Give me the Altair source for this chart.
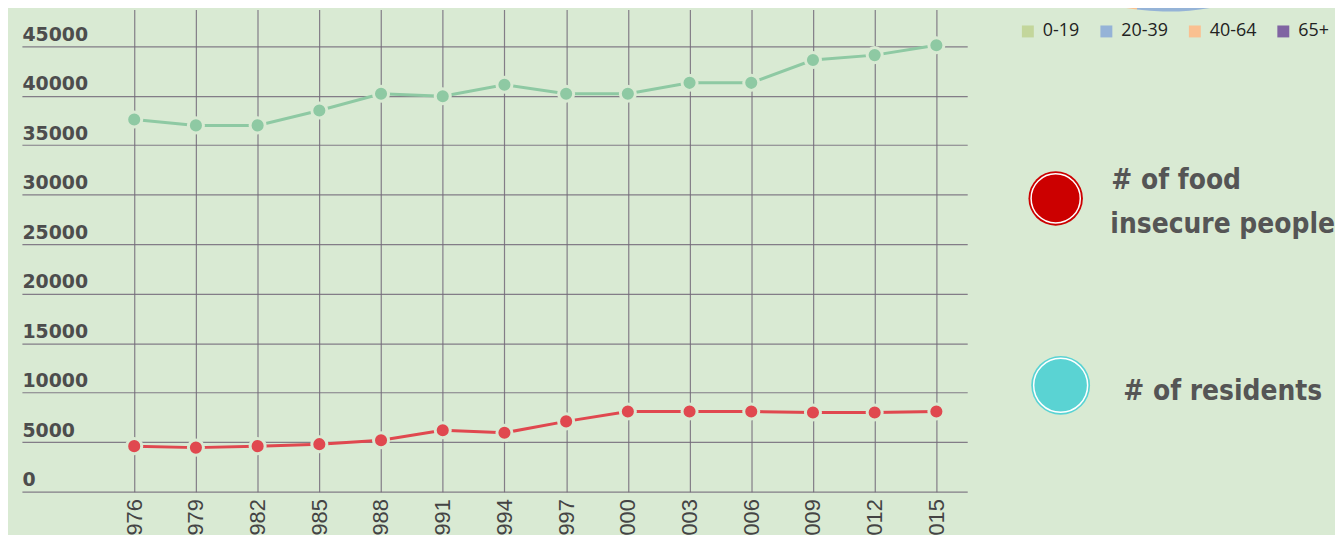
import altair as alt
import pandas as pd

# ---- data ----
years = [1976, 1979, 1982, 1985, 1988, 1991, 1994, 1997, 2000, 2003, 2006, 2009, 2012, 2015]
residents = [37600, 37000, 37000, 38500, 40200, 39950, 41100, 40200, 40200, 41300, 41300, 43600, 44100, 45100]
food_insecure = [4600, 4450, 4600, 4800, 5200, 6200, 5950, 7100, 8100, 8100, 8100, 8000, 8000, 8100]
y_ticks = [0, 5000, 10000, 15000, 20000, 25000, 30000, 35000, 40000, 45000]

age_groups = ["0-19", "20-39", "40-64", "65+"]
age_shares = [25, 27, 33, 15]  # pie is mostly cut off; rough estimate
age_colors = ["#c3d69b", "#95b3d7", "#fac090", "#8064a2"]

series_names = ["residents", "insecure"]
series_colors = ["#8ec9a3", "#e0484f"]

BG = "#d9ead3"
GRID = "#736a79"

n = len(years)
df = pd.DataFrame({
    "year": years * 2,
    "value": residents + food_insecure,
    "series": ["residents"] * n + ["insecure"] * n,
})

x_enc = alt.X(
    "year:Q",
    scale=alt.Scale(domain=[1970.54, 2016.5], nice=False, zero=False),
    axis=alt.Axis(
        values=years, format="d", title=None, labelAngle=270, labelPadding=7,
        ticks=False, tickSize=0, domain=False, grid=True, gridColor=GRID,
        gridWidth=1.2, gridOpacity=0.85, labelFont="Liberation Sans",
        labelFontSize=22, labelColor="#444444", labelFlush=False, labelOverlap=False,
    ),
)
y_enc = alt.Y(
    "value:Q",
    scale=alt.Scale(domain=[0, 48700], nice=False),
    axis=alt.Axis(
        values=y_ticks, format="d", title=None, labelAlign="left", labelBaseline="alphabetic",
        labelPadding=0, ticks=False, tickSize=0, domain=False, labelOffset=-6,
        labelFont="DejaVu Sans", labelFontWeight="bold", labelFontSize=19,
        labelColor="#4d4d4d", grid=True, gridColor=GRID, gridWidth=1.2,
        gridOpacity=0.85, labelFlush=False, labelOverlap=False,
    ),
)
col_enc = alt.Color(
    "series:N",
    scale=alt.Scale(domain=series_names, range=series_colors),
    legend=None,
)

base = alt.Chart(df)
lines = base.mark_line(strokeWidth=3).encode(x=x_enc, y=y_enc, color=col_enc, detail="series:N")
points = base.mark_point(filled=True, shape="circle", size=230, stroke=BG,
                         strokeWidth=3, opacity=1, strokeOpacity=1).encode(
    x="year:Q", y="value:Q", color=col_enc
)

# ---- pie (mostly cut off at the top) with its legend ----
pie_df = pd.DataFrame({"age": age_groups, "share": age_shares, "order": list(range(len(age_groups)))})
pie = alt.Chart(pie_df).mark_arc(radius=250).encode(
    theta=alt.Theta("share:Q", stack=True),
    order=alt.Order("order:Q"),
    color=alt.Color(
        "age:N",
        scale=alt.Scale(domain=age_groups, range=age_colors),
        legend=alt.Legend(
            orient="none", direction="horizontal", legendX=1003, legendY=13,
            title=None, symbolType="square", symbolSize=144, symbolStrokeWidth=0,
            labelFont="Open Sans", labelFontSize=18, labelColor="#222222",
            labelOffset=6, columnPadding=18, padding=0,
        ),
    ),
    x=alt.value(1153),
    y=alt.value(-248),
)

# ---- big key circles and text ----
one = pd.DataFrame({"k": [0]})
red_c = alt.Chart(one).mark_point(filled=True, shape="circle", size=3000, color="#cc0000", opacity=1).encode(
    x=alt.value(1040), y=alt.value(190))
red_ring = alt.Chart(one).mark_point(filled=False, shape="circle", size=2450, color="white",
                                     strokeWidth=1.5, opacity=1).encode(x=alt.value(1040), y=alt.value(190))
teal_c = alt.Chart(one).mark_point(filled=True, shape="circle", size=3500, color="#5ad3d3", opacity=1).encode(
    x=alt.value(1045), y=alt.value(378))
teal_ring = alt.Chart(one).mark_point(filled=False, shape="circle", size=2950, color="white",
                                      strokeWidth=1.5, opacity=1).encode(x=alt.value(1045), y=alt.value(378))

key_font = "DejaVu Sans Condensed, DejaVu Sans, sans-serif"

def key_text(txt, xv, yv):
    return alt.Chart(one).mark_text(
        text=txt, align="left", baseline="alphabetic", font=key_font,
        fontSize=28, fontWeight="bold", color="#555555",
    ).encode(x=alt.value(xv), y=alt.value(yv))

t1 = key_text("# of food", 1096, 180)
t2 = key_text("insecure people", 1095, 225)
t3 = key_text("# of residents", 1108, 393)

chart = alt.layer(
    lines, points, pie, red_c, red_ring, teal_c, teal_ring, t1, t2, t3
).resolve_scale(color="independent").properties(
    width=951,
    height=485,
    background=BG,
    autosize=alt.AutoSizeParams(type="none"),
    padding={"left": 14, "top": 0, "right": 370, "bottom": 42},
).configure_view(stroke=None)

chart.save("out.html", embed_options={"renderer": "svg", "actions": False})
